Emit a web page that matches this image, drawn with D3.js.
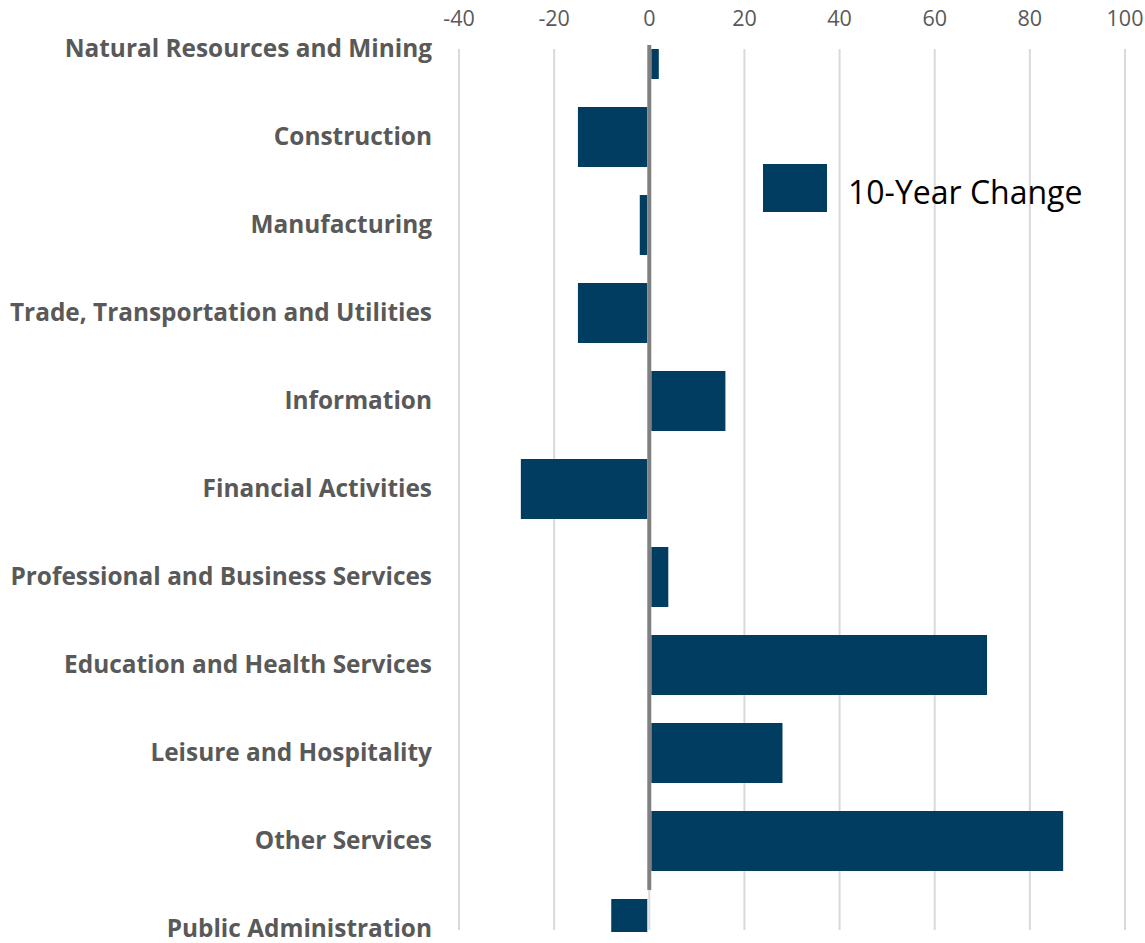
<!DOCTYPE html>
<html>
<head>
<meta charset="utf-8">
<script src="https://cdn.jsdelivr.net/npm/d3@7"></script>
<style>
  body { margin: 0; background: #fff; }
  svg { display: block; }
</style>
</head>
<body>
<div id="chart"></div>
<script>
// Données
const categories = [
  "Natural Resources and Mining",
  "Construction",
  "Manufacturing",
  "Trade, Transportation and Utilities",
  "Information",
  "Financial Activities",
  "Professional and Business Services",
  "Education and Health Services",
  "Leisure and Hospitality",
  "Other Services",
  "Public Administration"
];
const changeValues = [2, -15, -2, -15, 16, -27, 4, 71, 28, 87, -8];
const xTicks = [-40, -20, 0, 20, 40, 60, 80, 100];
const seriesName = "10-Year Change";

const width = 1145, height = 943;
const barColor = "#003d61";
const fontFamily = "'Open Sans', 'Noto Sans', sans-serif";

const svg = d3.select("#chart").append("svg")
    .attr("width", width)
    .attr("height", height);

// Echelles
const x = d3.scaleLinear()
    .domain([-40, 100])
    .range([459, 1125]);

const y = d3.scalePoint()
    .domain(categories)
    .range([49, 929]);

const plotTop = 49, plotBottom = 932;

// Grille verticale
svg.append("g")
    .selectAll("line")
    .data(xTicks)
    .join("line")
    .attr("x1", d => x(d))
    .attr("x2", d => x(d))
    .attr("y1", plotTop)
    .attr("y2", 930)
    .attr("stroke", "#d9d9d9")
    .attr("stroke-width", 2);

// Etiquettes de l'axe x (en haut)
svg.append("g")
    .selectAll("text")
    .data(xTicks)
    .join("text")
    .attr("x", d => x(d))
    .attr("y", 26)
    .attr("text-anchor", "middle")
    .attr("fill", "#595959")
    .style("font-family", fontFamily)
    .style("font-size", "21.5px")
    .text(d => d);

// Zone de découpe
svg.append("clipPath")
    .attr("id", "plot-clip")
    .append("rect")
    .attr("x", 0)
    .attr("y", plotTop)
    .attr("width", width)
    .attr("height", plotBottom - plotTop);

// Barres
const barH = 60;
svg.append("g")
    .attr("clip-path", "url(#plot-clip)")
    .selectAll("rect")
    .data(categories.map((c, i) => ({ cat: c, value: changeValues[i] })))
    .join("rect")
    .attr("x", d => d.value >= 0 ? x(0) + 2 : x(d.value))
    .attr("width", d => Math.max(0, Math.abs(x(d.value) - x(0)) - 2))
    .attr("y", d => y(d.cat) - barH / 2)
    .attr("height", barH)
    .attr("fill", barColor);

// Ligne du zéro
svg.append("line")
    .attr("x1", x(0)).attr("x2", x(0))
    .attr("y1", 45).attr("y2", 890)
    .attr("stroke", "#808080")
    .attr("stroke-width", 4);

// Etiquettes des catégories
svg.append("g")
    .selectAll("text")
    .data(categories)
    .join("text")
    .attr("x", 432)
    .attr("y", d => y(d) + 8)
    .attr("text-anchor", "end")
    .attr("fill", "#595959")
    .style("font-family", fontFamily)
    .style("font-weight", "bold")
    .style("font-size", "24.4px")
    .text(d => d);

// Légende
svg.append("rect")
    .attr("x", 763)
    .attr("y", 164)
    .attr("width", 64)
    .attr("height", 48)
    .attr("fill", barColor);

svg.append("text")
    .attr("x", 848)
    .attr("y", 204)
    .attr("fill", "#000")
    .style("font-family", fontFamily)
    .style("font-size", "32px")
    .text(seriesName);
</script>
</body>
</html>
